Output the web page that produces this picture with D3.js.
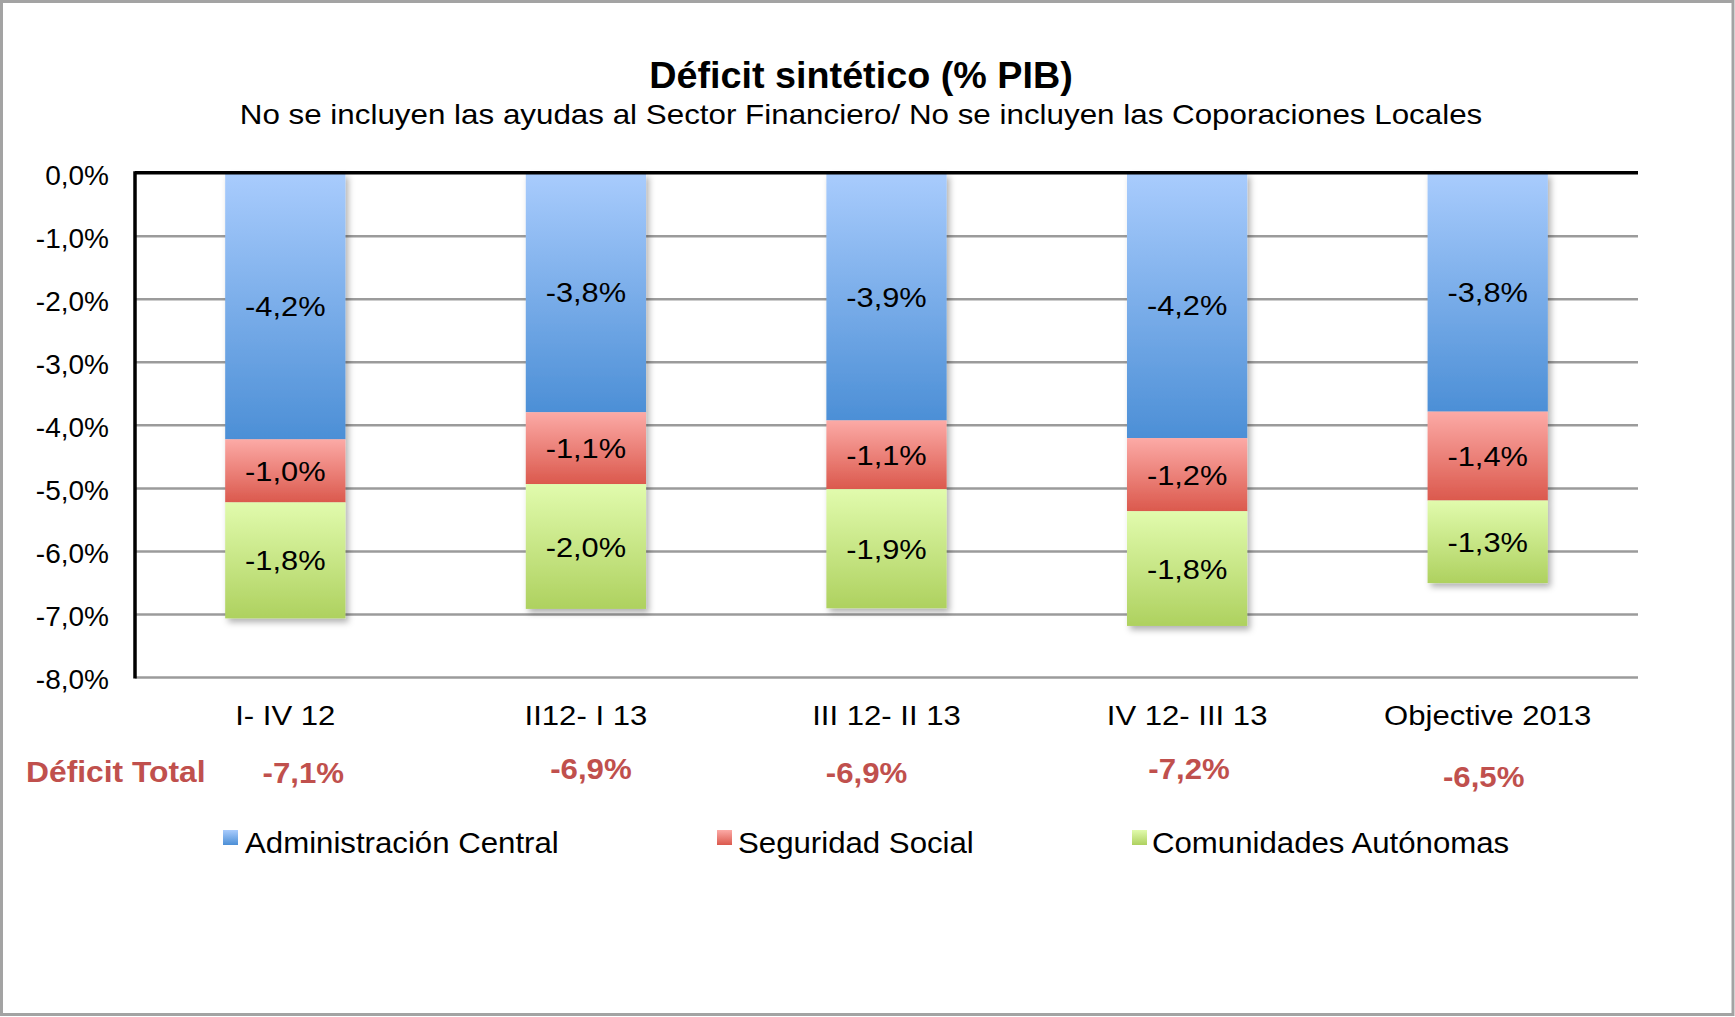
<!DOCTYPE html>
<html>
<head>
<meta charset="utf-8">
<script src="https://cdn.jsdelivr.net/npm/d3@7"></script>
<style>
  html, body { margin: 0; padding: 0; background: #fff; }
  svg { display: block; }
  text { font-family: "Liberation Sans", Arial, Helvetica, sans-serif; }
</style>
</head>
<body>
<svg id="chart" width="1735" height="1017"></svg>
<script>
// ---------- DATA ----------
const categories = ["I- IV 12", "II12- I 13", "III 12- II 13", "IV 12- III 13", "Objective 2013"];
const seriesNames = ["Administración Central", "Seguridad Social", "Comunidades Autónomas"];
const adminCentral = [-4.23, -3.80, -3.93, -4.21, -3.79];
const seguridadSocial = [-1.00, -1.14, -1.09, -1.16, -1.41];
const comunidades = [-1.84, -1.98, -1.89, -1.82, -1.31];
const deficitTotal = [-7.1, -6.9, -6.9, -7.2, -6.5];
const yTicks = [0, -1, -2, -3, -4, -5, -6, -7, -8];
const titleText = "Déficit sintético (% PIB)";
const subtitleText = "No se incluyen las ayudas al Sector Financiero/ No se incluyen las Coporaciones Locales";
const totalRowLabel = "Déficit Total";

// ---------- LAYOUT ----------
const W = 1735, H = 1017;
const plot = { left: 135, right: 1638, top: 172.7, bottom: 677 };
const totalOffsets = [{dx: 18, y: 783}, {dx: 5, y: 779}, {dx: -20, y: 783}, {dx: 2, y: 779}, {dx: -4, y: 787}];
const gradStops = [
  ["#a9ccfd", "#4c8fd6"],
  ["#fcaaa6", "#db594d"],
  ["#e1fbad", "#aed15f"]
];
const legendPos = [{x: 223, tx: 245}, {x: 717, tx: 738}, {x: 1132, tx: 1152}];

const fmt = v => "-" + Math.abs(v).toFixed(1).replace(".", ",") + "%";

// horizontally stretch text elements (reference text is slightly wide)
function stretch(sel, sx) {
  sel.each(function () {
    const t = d3.select(this);
    const tx = +t.attr("x") || 0, ty = +t.attr("y") || 0;
    t.attr("x", 0).attr("y", 0).attr("transform", `translate(${tx},${ty}) scale(${sx},1)`);
  });
}

const svg = d3.select("#chart");
const defs = svg.append("defs");

gradStops.forEach((s, i) => {
  const g = defs.append("linearGradient").attr("id", "grad" + i)
    .attr("x1", 0).attr("y1", 0).attr("x2", 0).attr("y2", 1);
  g.append("stop").attr("offset", "0%").attr("stop-color", s[0]);
  g.append("stop").attr("offset", "100%").attr("stop-color", s[1]);
});
const shadow = defs.append("filter").attr("id", "shadow")
  .attr("x", "-20%").attr("y", "-10%").attr("width", "150%").attr("height", "130%");
shadow.append("feDropShadow").attr("dx", 3).attr("dy", 4).attr("stdDeviation", 3)
  .attr("flood-color", "#000").attr("flood-opacity", 0.3);

// background + frame
svg.append("rect").attr("x", 0).attr("y", 0).attr("width", W).attr("height", H).attr("fill", "#fff");
svg.append("rect").attr("x", 1.5).attr("y", 1.5).attr("width", 1731.5).attr("height", 1013)
  .attr("fill", "none").attr("stroke", "#a3a3a3").attr("stroke-width", 3);

// titles
stretch(svg.append("text").attr("x", 861).attr("y", 88).attr("text-anchor", "middle")
  .attr("font-size", 37).attr("font-weight", "bold").attr("fill", "#000").text(titleText), 1.02);
stretch(svg.append("text").attr("x", 861).attr("y", 124).attr("text-anchor", "middle")
  .attr("font-size", 28).attr("fill", "#000").text(subtitleText), 1.12);

// scales
const x = d3.scaleBand().domain(categories).range([plot.left, plot.right]).paddingInner(0.6).paddingOuter(0.3);
const y = d3.scaleLinear().domain([0, -8]).range([plot.top, plot.bottom]);

// gridlines
const grid = svg.append("g").attr("transform", `translate(${plot.left},0)`)
  .call(d3.axisLeft(y).tickValues(yTicks.filter(t => t !== 0)).tickSize(-(plot.right - plot.left)).tickFormat(""));
grid.select(".domain").remove();
grid.selectAll("line").attr("stroke", "#9b9b9b").attr("stroke-width", 2.5);

// y axis labels
const yAxis = svg.append("g").attr("transform", `translate(${plot.left},0)`)
  .call(d3.axisLeft(y).tickValues(yTicks).tickSize(0).tickPadding(26)
    .tickFormat(d => (d === 0 ? "0,0%" : fmt(d))));
yAxis.select(".domain").remove();
yAxis.selectAll("text").attr("font-size", 28).attr("fill", "#000")
  .attr("font-family", "Liberation Sans, Arial, sans-serif").attr("dy", "0.42em");

// stacked data
const rows = categories.map((c, i) => ({ cat: c, s0: adminCentral[i], s1: seguridadSocial[i], s2: comunidades[i] }));
const stack = d3.stack().keys(["s0", "s1", "s2"]).offset(d3.stackOffsetDiverging);
const stacked = stack(rows);

const barGroups = svg.append("g").attr("filter", "url(#shadow)");
stacked.forEach((layer, li) => {
  barGroups.selectAll(null).data(layer).enter().append("rect")
    .attr("x", d => x(d.data.cat))
    .attr("width", x.bandwidth())
    .attr("y", d => y(d[1]))
    .attr("height", d => y(d[0]) - y(d[1]))
    .attr("fill", `url(#grad${li})`);
});

// segment labels
stacked.forEach((layer, li) => {
  const lbl = svg.append("g").selectAll("text").data(layer).enter().append("text")
    .attr("x", d => x(d.data.cat) + x.bandwidth() / 2)
    .attr("y", d => (y(d[0]) + y(d[1])) / 2 + 10)
    .attr("text-anchor", "middle")
    .attr("font-size", 28).attr("fill", "#000")
    .text(d => fmt(d.data[layer.key]));
  stretch(lbl, 1.1);
});

// axis lines
svg.append("line").attr("x1", plot.left).attr("x2", plot.right).attr("y1", y(0)).attr("y2", y(0))
  .attr("stroke", "#000").attr("stroke-width", 3.5);
svg.append("line").attr("x1", plot.left).attr("x2", plot.left).attr("y1", y(0) - 1.5).attr("y2", y(-8) + 1.5)
  .attr("stroke", "#000").attr("stroke-width", 3.5);

// category labels
stretch(svg.append("g").selectAll("text").data(categories).enter().append("text")
  .attr("x", d => x(d) + x.bandwidth() / 2).attr("y", 725)
  .attr("text-anchor", "middle").attr("font-size", 28).attr("fill", "#000").text(d => d), 1.11);

// total row
stretch(svg.append("text").attr("x", 26).attr("y", 782).attr("font-size", 30).attr("font-weight", "bold")
  .attr("fill", "#c0504d").text(totalRowLabel), 1.06);
stretch(svg.append("g").selectAll("text").data(deficitTotal).enter().append("text")
  .attr("x", (d, i) => x(categories[i]) + x.bandwidth() / 2 + totalOffsets[i].dx)
  .attr("y", (d, i) => totalOffsets[i].y)
  .attr("text-anchor", "middle").attr("font-size", 30).attr("font-weight", "bold")
  .attr("fill", "#c0504d").text(d => fmt(d)), 1.04);

// legend
const leg = svg.append("g").selectAll("g").data(seriesNames).enter().append("g");
leg.append("rect").attr("x", (d, i) => legendPos[i].x).attr("y", 830).attr("width", 15).attr("height", 15)
  .attr("fill", (d, i) => `url(#grad${i})`);
stretch(leg.append("text").attr("x", (d, i) => legendPos[i].tx).attr("y", 853)
  .attr("font-size", 30).attr("fill", "#000").text(d => d), 1.04);
</script>
</body>
</html>
